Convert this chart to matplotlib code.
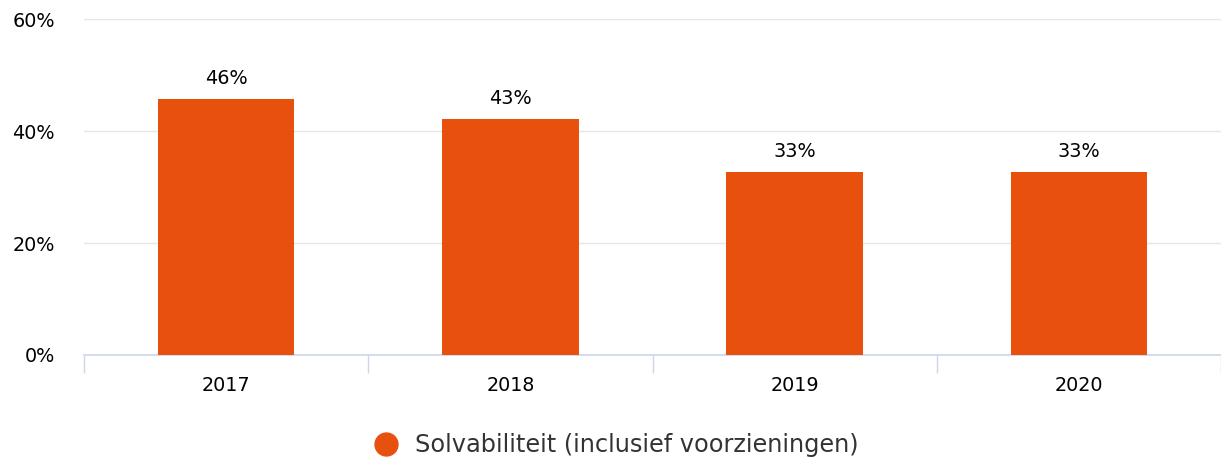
import matplotlib.pyplot as plt
import numpy as np

plt.rcParams['font.family'] = ['DejaVu Sans']

years = ['2017', '2018', '2019', '2020']
solvabiliteit = [45.7, 42.1, 32.6, 32.6]
labels = ['46%', '43%', '33%', '33%']
yticks = [0, 20, 40, 60]

bar_color = '#e8500e'
axis_color = '#ccd6eb'

fig = plt.figure(figsize=(12.21, 4.61), dpi=100)
ax = fig.add_axes([84 / 1221, 1 - 355 / 461, (1221 - 84) / 1221, (355 - 19) / 461])

x = np.arange(len(years))
bars = ax.bar(x, solvabiliteit, width=0.48, color=bar_color, zorder=3)
for b, lab in zip(bars, labels):
    ax.text(b.get_x() + b.get_width() / 2, b.get_height() + 2.0, lab,
            ha='center', va='bottom', fontsize=13.8, color='black')

ax.set_xlim(-0.5, len(years) - 0.5)
ax.set_ylim(0, 60)
ax.set_yticks(yticks)
ax.set_yticklabels([f'{v}%' for v in yticks], fontsize=13.8)
ax.grid(axis='y', color='#e6e6e6', linewidth=1, zorder=0)

ax.set_xticks(x)
ax.set_xticklabels(years, fontsize=13.8)
ax.set_xticks(np.arange(-0.5, len(years)), minor=True)
ax.tick_params(axis='x', which='major', length=0, pad=15)
ax.tick_params(axis='x', which='minor', length=13, color=axis_color, width=1)
ax.tick_params(axis='y', length=0, pad=21)

for s in ['top', 'right', 'left']:
    ax.spines[s].set_visible(False)
ax.spines['bottom'].set_color(axis_color)
ax.spines['bottom'].set_linewidth(1.2)

handle = plt.Line2D([], [], marker='o', linestyle='', markersize=16.5,
                    color=bar_color)
fig.legend([handle], ['Solvabiliteit (inclusief voorzieningen)'],
           loc='center', bbox_to_anchor=(0.5, 1 - 445 / 461), frameon=False,
           fontsize=17.3, handletextpad=0.2, labelcolor='#333333')

fig.savefig('out.png', dpi=100)
